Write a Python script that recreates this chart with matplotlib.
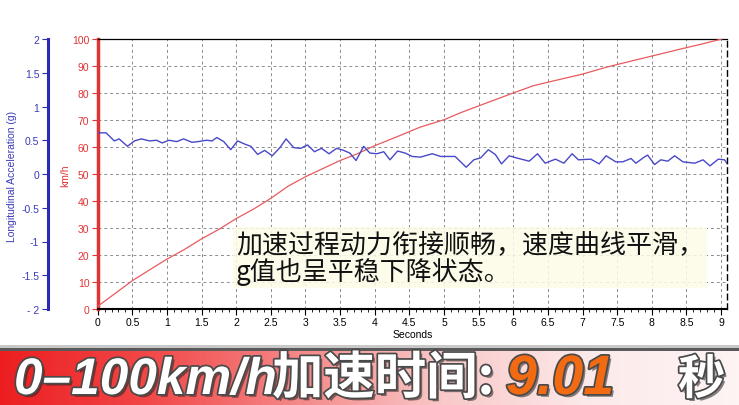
import numpy as np
import matplotlib.pyplot as plt
from matplotlib import patheffects as pe
from matplotlib.patches import Rectangle

plt.rcParams['axes.unicode_minus'] = False

# 速度曲线 (km/h)
t_speed = [0, 0.37, 0.5, 0.75, 1.0, 1.25, 1.5, 1.75, 2.0, 2.25, 2.5, 2.75, 3.0, 3.25,
           3.5, 3.75, 4.0, 4.36, 4.65, 5.0, 5.25, 5.57, 6.0, 6.29, 6.6, 7.0, 7.35,
           7.73, 8.1, 8.45, 8.7, 9.01]
speed = [1, 8, 10.5, 14.5, 18.5, 22, 26, 29.5, 33.5, 37, 41, 45.5, 49, 52,
         55, 57.5, 60.5, 64.2, 67.3, 70.1, 72.8, 75.9, 80, 82.7, 84.6, 87, 89.6,
         92, 94.3, 96.5, 98, 100]

# 纵向加速度 (g)
t_acc = [0, 0.12, 0.24, 0.31, 0.43, 0.53, 0.63, 0.75, 0.85, 0.93, 1.03, 1.14, 1.24, 1.36, 1.45,
         1.57, 1.65, 1.72, 1.82, 1.92, 2.02, 2.13, 2.21, 2.31, 2.41, 2.52, 2.63, 2.72, 2.83, 2.93,
         3.03, 3.13, 3.23, 3.34, 3.45, 3.55, 3.64, 3.73, 3.84, 3.93, 4.03, 4.13, 4.22, 4.33, 4.44,
         4.54, 4.66, 4.83, 4.95, 5.16, 5.32, 5.43, 5.53, 5.64, 5.74, 5.83, 5.94, 6.04, 6.23, 6.35,
         6.46, 6.61, 6.73, 6.85, 6.94, 7.12, 7.24, 7.34, 7.48, 7.58, 7.70, 7.77, 7.89, 7.94, 8.04,
         8.13, 8.23, 8.33, 8.45, 8.62, 8.74, 8.84, 8.96, 9.05, 9.09]
acc = [0.61, 0.61, 0.49, 0.52, 0.41, 0.49, 0.52, 0.49, 0.50, 0.46, 0.50, 0.48, 0.52, 0.47, 0.48,
       0.50, 0.49, 0.54, 0.48, 0.36, 0.49, 0.44, 0.41, 0.29, 0.35, 0.27, 0.39, 0.52, 0.39, 0.38,
       0.43, 0.33, 0.38, 0.30, 0.38, 0.35, 0.31, 0.20, 0.41, 0.31, 0.30, 0.33, 0.21, 0.34, 0.31,
       0.26, 0.25, 0.30, 0.26, 0.26, 0.10, 0.21, 0.24, 0.36, 0.29, 0.15, 0.27, 0.24, 0.19, 0.30,
       0.16, 0.22, 0.16, 0.30, 0.21, 0.22, 0.15, 0.27, 0.18, 0.18, 0.23, 0.16, 0.25, 0.28, 0.14,
       0.21, 0.19, 0.27, 0.18, 0.16, 0.21, 0.12, 0.22, 0.21, 0.15]

x_ticks = np.arange(0, 9.01, 0.5)
x_labels = ['0', '0.5', '1', '1.5', '2', '2.5', '3', '3.5', '4', '4.5', '5', '5.5',
            '6', '6.5', '7', '7.5', '8', '8.5', '9']
speed_ticks = np.arange(0, 101, 10)
acc_ticks = [-2, -1.5, -1, -0.5, 0, 0.5, 1, 1.5, 2]
acc_labels = ['- 2', '-1.5', '-1', '-0.5', '0', '0.5', '1', '1.5', '2']

W, H = 739, 406
RED = '#e03434'
BLUE = '#2a2ab4'
TICKFONT = 'Liberation Sans'
CJK = ['Noto Sans CJK SC', 'DejaVu Sans']

fig = plt.figure(figsize=(W / 100, H / 100), dpi=100)
ax = fig.add_axes([97.7 / W, 1 - 310 / H, (727.3 - 97.7) / W, 270 / H])

ax.plot(t_speed, speed, color='#e85a5e', lw=0.9, zorder=3)
ax.set_xlim(0, 9.09)
ax.set_ylim(0, 100)
ax.set_xticks(x_ticks)
ax.set_xticklabels(x_labels, fontsize=7.5, family=TICKFONT)
ax.set_xticks(np.arange(0, 9.09, 0.1), minor=True)
ax.set_yticks(speed_ticks)
ax.set_yticklabels([str(v) for v in speed_ticks], fontsize=7.5, color=RED, family=TICKFONT)
ax.tick_params(axis='x', direction='out', length=4, width=0.8, pad=2)
ax.tick_params(axis='x', which='minor', direction='out', length=2, width=0.6)
ax.tick_params(axis='y', direction='out', length=4, width=0.8, color=RED, pad=2)
ax.grid(True, which='major', linestyle=(0, (3, 3)), color='#8c8c8c', lw=0.7)

ax.spines['left'].set_color(RED)
ax.spines['left'].set_linewidth(2.5)
ax.spines['bottom'].set_linewidth(1.5)
ax.spines['top'].set_linewidth(0.9)
ax.spines['right'].set_linestyle((0, (4, 3)))
ax.spines['right'].set_linewidth(1.0)
ax.set_xlabel('Seconds', fontsize=7.5, family=TICKFONT, labelpad=1)

ax2 = ax.twinx()
ax2.plot(t_acc, acc, color='#4848c8', lw=1.0, zorder=4)
ax2.set_ylim(-2, 2)
ax2.yaxis.tick_left()
ax2.yaxis.set_label_position('left')
for s in ['right', 'top', 'bottom']:
    ax2.spines[s].set_visible(False)
ax2.spines['left'].set_visible(True)
ax2.spines['left'].set_position(('axes', -50 / 629.6))
ax2.spines['left'].set_color(BLUE)
ax2.spines['left'].set_linewidth(2.2)
ax2.set_yticks(acc_ticks)
ax2.set_yticklabels(acc_labels, fontsize=7.5, color='#3a3ab8', family=TICKFONT)
ax2.tick_params(axis='y', direction='out', length=4, width=0.8, color=BLUE, pad=2)

fig.text(65 / W, 1 - 176 / H, 'km/h', rotation=90, color=RED, fontsize=7.5,
         family=TICKFONT, ha='center', va='center')
fig.text(12 / W, 1 - 176 / H, 'Longitudinal Acceleration (g)', rotation=90, color='#3a3ab8',
         fontsize=7.5, family=TICKFONT, ha='center', va='center')

# 说明文字
fig.text(236 / W, 1 - 231 / H, '加速过程动力衔接顺畅，速度曲线平滑，\ng值也呈平稳下降状态。',
         family=CJK, fontsize=18.7, color='#111111',
         ha='left', va='top', linespacing=1.0,
         bbox=dict(boxstyle='square,pad=0.1', facecolor='#fdfbe6', edgecolor='none', alpha=0.85))

# 底部横幅
bax = fig.add_axes([0, 0, 1, 55 / H])
stops_x = [0.0, 0.2, 0.4, 0.6, 0.8, 1.0]
stops_c = np.array([[236, 30, 32], [242, 72, 72], [245, 135, 135], [249, 200, 200],
                    [252, 234, 234], [254, 244, 244]]) / 255
xs = np.linspace(0, 1, 400)
grad = np.stack([np.interp(xs, stops_x, stops_c[:, i]) for i in range(3)], axis=-1)[None, :, :]
bax.imshow(grad, aspect='auto', extent=[0, 1, 0, 1])
bax.set_xlim(0, 1)
bax.set_ylim(0, 1)
bax.axis('off')
fig.patches.append(Rectangle((0, 1 - 352 / H), 1, 3 / H, transform=fig.transFigure,
                             facecolor='#5a5a5a', edgecolor='none'))
fig.patches.append(Rectangle((0, 1 - 349 / H), 1, 3 / H, transform=fig.transFigure,
                             facecolor='#c8c8c8', edgecolor='none'))

effects = [pe.SimplePatchShadow(offset=(2, -2), shadow_rgbFace='#222222', alpha=0.55),
           pe.withStroke(linewidth=2.5, foreground='#4a4a4a')]
base_y = 1 - 395 / H
fig.text(14 / W, base_y, '0–100km/h', family=['Liberation Sans', 'DejaVu Sans'],
         fontsize=37, weight='bold', style='italic', color='white', va='baseline',
         path_effects=effects)
fig.text(272 / W, base_y, '加速时间:', family=CJK,
         fontsize=37, weight='heavy', color='white', va='baseline', path_effects=effects)
fig.text(506 / W, base_y, '9.01', family=['Liberation Sans', 'DejaVu Sans'],
         fontsize=40, weight='bold', style='italic', color='#f26a12', va='baseline',
         path_effects=effects)
fig.text(678 / W, base_y, '秒', family=CJK,
         fontsize=34, weight='heavy', color='white', va='baseline', path_effects=effects)

fig.savefig('out.png', dpi=100)
